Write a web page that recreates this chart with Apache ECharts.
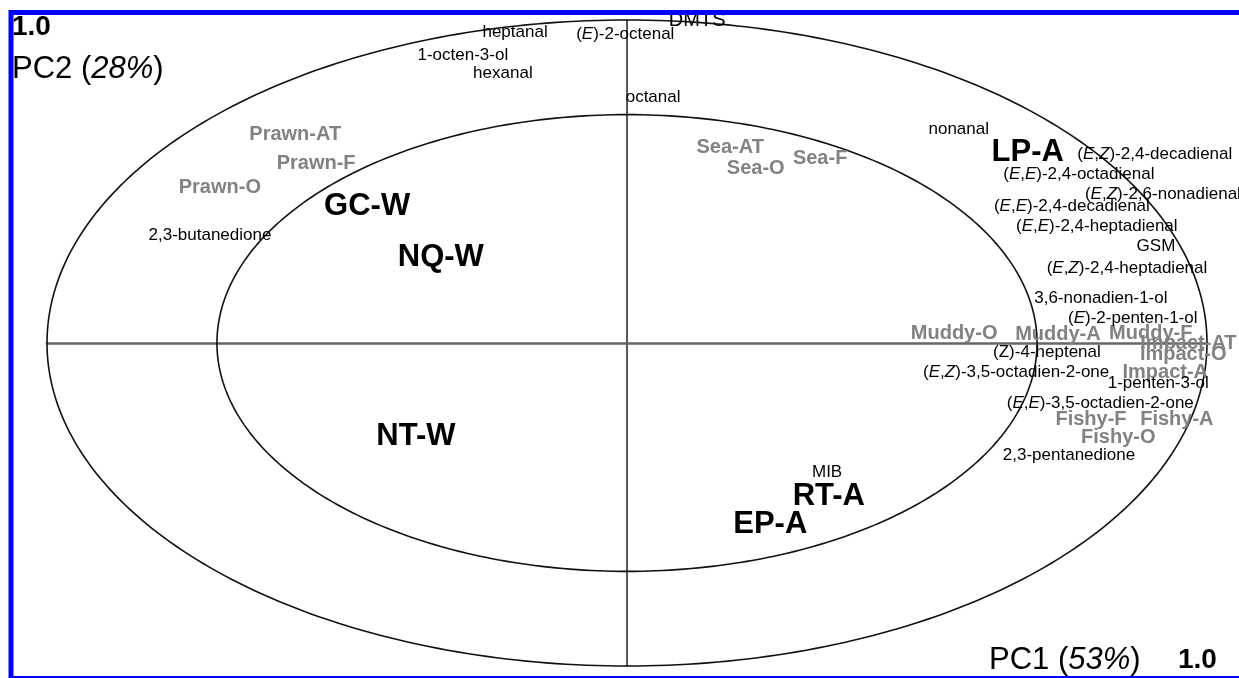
<!DOCTYPE html>
<html>
<head>
<meta charset="utf-8">
<script src="https://cdn.jsdelivr.net/npm/echarts@6/dist/echarts.min.js"></script>
<style>
html,body{margin:0;padding:0;background:#fff;}
#chart{width:1239px;height:678px;}
</style>
</head>
<body>
<div id="chart"></div>
<script>
// Correlation-loading circles (radius in PC units): outer = 100%, inner = 50% explained variance
const circleRadii = [1.0, 0.707];

// Volatile compounds: [PC1, PC2, label]
const volatiles = [
  [-0.193, 0.963, 'heptanal'],
  [-0.003, 0.957, '({i|E})-2-octenal'],
  [-0.283, 0.892, '1-octen-3-ol'],
  [-0.214, 0.836, 'hexanal'],
  [0.045, 0.762, 'octanal'],
  [0.572, 0.663, 'nonanal'],
  [0.910, 0.585, '({i|E},{i|Z})-2,4-decadienal'],
  [0.779, 0.523, '({i|E},{i|E})-2,4-octadienal'],
  [0.924, 0.461, '({i|E},{i|Z})-2,6-nonadienal'],
  [0.767, 0.424, '({i|E},{i|E})-2,4-decadienal'],
  [0.810, 0.362, '({i|E},{i|E})-2,4-heptadienal'],
  [0.912, 0.300, 'GSM'],
  [0.862, 0.232, '({i|E},{i|Z})-2,4-heptadienal'],
  [0.817, 0.139, '3,6-nonadien-1-ol'],
  [0.872, 0.077, '({i|E})-2-penten-1-ol'],
  [0.724, -0.028, '(Z)-4-heptenal'],
  [0.671, -0.090, '({i|E},{i|Z})-3,5-octadien-2-one'],
  [0.916, -0.124, '1-penten-3-ol'],
  [0.816, -0.186, '({i|E},{i|E})-3,5-octadien-2-one'],
  [0.762, -0.347, '2,3-pentanedione'],
  [0.345, -0.399, 'MIB'],
  [-0.719, 0.334, '2,3-butanedione']
];
const dmts = [[0.121, 0.997, 'DMTS']];

// Sensory attributes: [PC1, PC2, label]
const attributes = [
  [-0.572, 0.647, 'Prawn-AT'],
  [-0.536, 0.557, 'Prawn-F'],
  [-0.702, 0.483, 'Prawn-O'],
  [0.178, 0.604, 'Sea-AT'],
  [0.222, 0.539, 'Sea-O'],
  [0.333, 0.570, 'Sea-F'],
  [0.564, 0.031, 'Muddy-O'],
  [0.743, 0.025, 'Muddy-A'],
  [0.903, 0.028, 'Muddy-F'],
  [0.968, -0.003, 'Impact-AT'],
  [0.959, -0.037, 'Impact-O'],
  [0.928, -0.090, 'Impact-A'],
  [0.800, -0.238, 'Fishy-F'],
  [0.948, -0.238, 'Fishy-A'],
  [0.847, -0.294, 'Fishy-O']
];

// Samples: [PC1, PC2, label]
const samples = [
  [0.691, 0.591, 'LP-A'],
  [-0.448, 0.424, 'GC-W'],
  [-0.321, 0.266, 'NQ-W'],
  [-0.364, -0.288, 'NT-W'],
  [0.348, -0.474, 'RT-A'],
  [0.247, -0.563, 'EP-A']
];

const FONT = '"Liberation Sans", Arial, Helvetica, sans-serif';

function textSeries(data, size, weight, color, z) {
  return {
    type: 'scatter',
    data: data,
    symbolSize: 1,
    itemStyle: { color: 'rgba(0,0,0,0)' },
    silent: true,
    z: z,
    label: {
      show: true,
      position: 'inside',
      formatter: p => p.data[2],
      fontFamily: FONT,
      fontSize: size,
      fontWeight: weight,
      color: color,
      opacity: 1,
      textBorderWidth: 0,
      textShadowBlur: 0,
      rich: {
        i: { fontFamily: FONT, fontSize: size, fontWeight: weight, fontStyle: 'italic', color: color }
      }
    },
    emphasis: { disabled: true }
  };
}

const chart = echarts.init(document.getElementById('chart'));
chart.setOption({
  animation: false,
  backgroundColor: '#ffffff',
  grid: { left: 47, right: 32, top: 20, bottom: 12 },
  xAxis: {
    type: 'value', min: -1, max: 1,
    axisLine: { show: true, onZero: true, lineStyle: { color: '#666', width: 2.5 } },
    axisTick: { show: false }, axisLabel: { show: false }, splitLine: { show: false }
  },
  yAxis: {
    type: 'value', min: -1, max: 1,
    axisLine: { show: true, onZero: true, lineStyle: { color: '#222', width: 1.5 } },
    axisTick: { show: false }, axisLabel: { show: false }, splitLine: { show: false }
  },
  graphic: [
    { type: 'rect', shape: { x: 11, y: 12.5, width: 1300, height: 666 },
      style: { fill: 'none', stroke: '#0000ff', lineWidth: 5 }, z: 100 },
    { type: 'text', x: 12, y: 27, z: 100,
      style: { text: '1.0', font: 'bold 28px ' + FONT, fill: '#000',
               textAlign: 'left', align: 'left', textVerticalAlign: 'middle', verticalAlign: 'middle' } },
    { type: 'text', x: 12, y: 69, z: 100,
      style: { text: 'PC2 ({i|28%})', font: '31px ' + FONT, fill: '#000',
               rich: { i: { fontStyle: 'italic', fontSize: 31, fontFamily: FONT, fill: '#000', color: '#000' } },
               textAlign: 'left', align: 'left', textVerticalAlign: 'middle', verticalAlign: 'middle' } },
    { type: 'text', x: 989, y: 660, z: 100,
      style: { text: 'PC1 ({i|53%})', font: '31px ' + FONT, fill: '#000',
               rich: { i: { fontStyle: 'italic', fontSize: 31, fontFamily: FONT, fill: '#000', color: '#000' } },
               textAlign: 'left', align: 'left', textVerticalAlign: 'middle', verticalAlign: 'middle' } },
    { type: 'text', x: 1178, y: 660, z: 100,
      style: { text: '1.0', font: 'bold 28px ' + FONT, fill: '#000',
               textAlign: 'left', align: 'left', textVerticalAlign: 'middle', verticalAlign: 'middle' } }
  ],
  series: [
    {
      type: 'custom',
      data: circleRadii.map(r => [r]),
      silent: true,
      z: 1,
      renderItem: function (params, api) {
        const r = api.value(0);
        const pts = [];
        for (let a = 0; a <= 360; a += 1) {
          const t = a * Math.PI / 180;
          pts.push(api.coord([r * Math.cos(t), r * Math.sin(t)]));
        }
        return { type: 'polyline', shape: { points: pts },
                 style: { fill: 'none', stroke: '#111', lineWidth: 1.6 } };
      }
    },
    textSeries(attributes, 20, 'bold', '#828282', 3),
    textSeries(volatiles, 17, 'normal', '#000000', 4),
    textSeries(dmts, 20, 'normal', '#000000', 4),
    textSeries(samples, 31, 'bold', '#000000', 5)
  ]
});
</script>
</body>
</html>
